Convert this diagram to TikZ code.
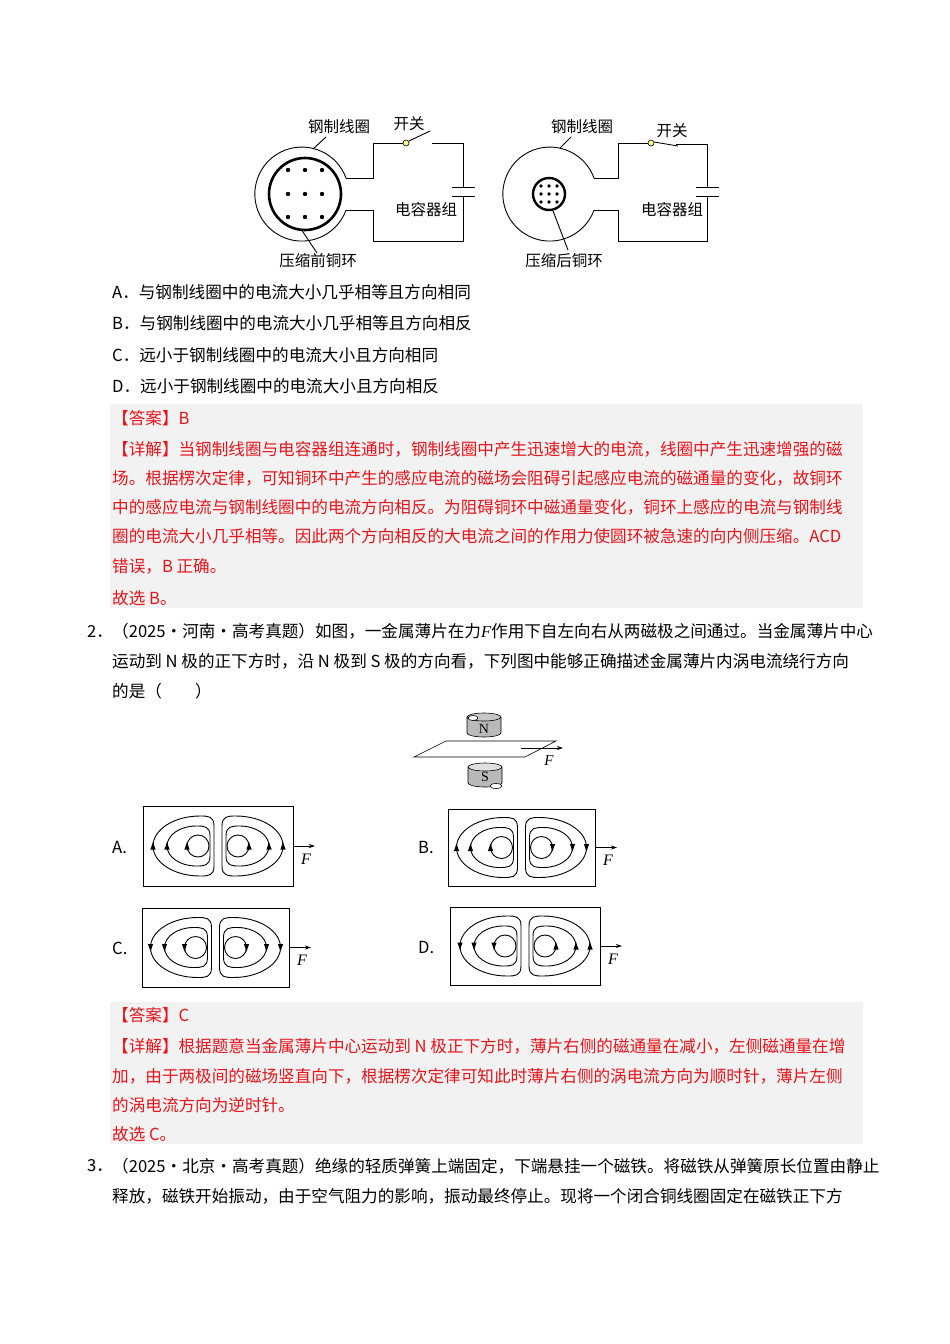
\documentclass[tikz,border=0pt]{standalone}
\usepackage{fontspec}
\setmainfont{Noto Sans CJK SC}
\newfontfamily\serifit{Liberation Serif}
\usetikzlibrary{arrows.meta}
\definecolor{ans}{HTML}{E8141B}
\definecolor{boxbg}{HTML}{F2F2F2}
\tikzset{
 txt/.style={anchor=west,inner sep=0pt,font=\fontsize{16.6}{18}\selectfont},
 red/.style={txt,text=ans},
 lbl/.style={inner sep=0pt,font=\fontsize{15.5}{18}\selectfont},
 wire/.style={line width=0.9pt},
 eddy/.style={line width=0.9pt},
 farrow/.style={line width=0.8pt,-{Stealth[length=6pt,width=4pt]}}
}
\newcommand{\amark}[3]{\fill (#1-2.6,#2+#3*3.5) -- (#1+2.6,#2+#3*3.5) -- (#1,#2-#3*4) -- cycle;}
\newcommand{\loopL}[3]{%
 \draw (#1,-#3+10) .. controls (#1,-#3) and (#1-6,-#3) .. (#1-14,-#3)
  .. controls ({#2+0.45*(#1-14-#2)},-#3) and (#2,-0.55*#3) .. (#2,0)
  .. controls (#2,0.55*#3) and ({#2+0.45*(#1-14-#2)},#3) .. (#1-14,#3)
  .. controls (#1-6,#3) and (#1,#3) .. (#1,#3-10) -- cycle;}
\newcommand{\loopR}[3]{%
 \draw (#1,-#3+10) .. controls (#1,-#3) and (#1+6,-#3) .. (#1+14,-#3)
  .. controls ({#2-0.45*(#2-#1-14)},-#3) and (#2,-0.55*#3) .. (#2,0)
  .. controls (#2,0.55*#3) and ({#2-0.45*(#2-#1-14)},#3) .. (#1+14,#3)
  .. controls (#1+6,#3) and (#1,#3) .. (#1,#3-10) -- cycle;}
\newcommand{\eddypat}[7]{%
 \draw[line width=0.8pt] (#1,#2) rectangle ++(#3,#4);
 \coordinate (#7r) at (#1+#3,#2+#4/2);
 \begin{scope}[shift={(#1+#3/2,#2+#4/2)},eddy]
  \loopL{-4}{-65}{30}
  \loopL{-8}{-51}{20}
  \draw (-20,0) circle[radius=11];
  \loopR{4}{65}{30}
  \loopR{8}{51}{20}
  \draw (20,0) circle[radius=11];
  \amark{-65}{0}{#5}\amark{-51}{0}{#5}\amark{-31}{0}{#5}
  \amark{65}{0}{#6}\amark{51}{0}{#6}\amark{31}{0}{#6}
 \end{scope}
 \coordinate (#7f) at (#1+#3+22,#2+#4/2);
 \draw[farrow] (#7r) -- (#7f);
 \node[inner sep=0pt,font=\serifit\itshape\fontsize{16}{18}\selectfont] at (#1+#3+13,#2+#4/2+13) {F};
}
\begin{document}
\begin{tikzpicture}[x=1pt,y=-1pt]
\useasboundingbox[fill=white] (0,0) rectangle (950,1344);
\begin{scope}[wire]
 \draw (346,178) arc[start angle=-20,end angle=-340,radius=47];
 \draw[line width=2.6pt] (305,194) circle[radius=36];
 \foreach \x in {288,305,322} \foreach \y in {170,194,217} \fill (\x,\y) circle[radius=2.2];
 \draw (346,178) -- (373,178) -- (373,143) -- (403,143);
 \draw (346,210) -- (373,210) -- (373,241) -- (463,241) -- (463,196);
 \draw (432,143) -- (463,143) -- (463,187);
 \draw (452,187) -- (475,187); \draw (452,196) -- (475,196);
 \draw (409,141) -- (430,131);
 \node[circle,draw,fill=yellow!40,inner sep=0pt,minimum size=6pt,line width=0.6pt] (sw1) at (406,143) {};
 \draw (326,137) -- (313,149);
 \draw (317,253) -- (301,229);
\end{scope}
\node[lbl] (l1) at (339,127) {钢制线圈};
\node[lbl] (l2) at (409,124) {开关};
\node[lbl] (l3) at (426,210) {电容器组};
\node[lbl] (l4) at (318,261) {压缩前铜环};
\begin{scope}[wire]
 \draw (594,178) arc[start angle=-20,end angle=-340,radius=47];
 \draw[line width=2.4pt] (549,194) circle[radius=16];
 \foreach \x in {541,549,557} \foreach \y in {186,194,202} \fill (\x,\y) circle[radius=1.8];
 \draw (594,178) -- (618,178) -- (618,143) -- (648,143);
 \draw (594,210) -- (618,210) -- (618,241) -- (707,241) -- (707,196);
 \draw (676,144) -- (707,144) -- (707,187);
 \draw (696,187) -- (719,187); \draw (696,196) -- (719,196);
 \draw (654,142) -- (678,146);
 \node[circle,draw,fill=yellow!40,inner sep=0pt,minimum size=6pt,line width=0.6pt] (sw2) at (651,143) {};
 \draw (571,137) -- (560,148);
 \draw (568,250) -- (553,211);
\end{scope}
\node[lbl] (r1) at (582,127) {钢制线圈};
\node[lbl] (r2) at (672,131) {开关};
\node[lbl] (r3) at (672,210) {电容器组};
\node[lbl] (r4) at (564,261) {压缩后铜环};
\node[txt] (oA) at (112,292) {A．与钢制线圈中的电流大小几乎相等且方向相同};
\node[txt] (oB) at (112,323) {B．与钢制线圈中的电流大小几乎相等且方向相反};
\node[txt] (oC) at (112,355) {C．远小于钢制线圈中的电流大小且方向相同};
\node[txt] (oD) at (112,386) {D．远小于钢制线圈中的电流大小且方向相反};
\fill[boxbg] (110,404) rectangle (863,608);
\node[red] at (112,418) {【答案】B};
\node[red] at (112,449) {【详解】当钢制线圈与电容器组连通时，钢制线圈中产生迅速增大的电流，线圈中产生迅速增强的磁};
\node[red] at (112,478) {场。根据楞次定律，可知铜环中产生的感应电流的磁场会阻碍引起感应电流的磁通量的变化，故铜环};
\node[red] at (112,507) {中的感应电流与钢制线圈中的电流方向相反。为阻碍铜环中磁通量变化，铜环上感应的电流与钢制线};
\node[red] at (112,536) {圈的电流大小几乎相等。因此两个方向相反的大电流之间的作用力使圆环被急速的向内侧压缩。ACD};
\node[red] at (112,566) {错误，B 正确。};
\node[red] at (112,598) {故选 B。};
\node[txt] at (87,631) {2．};
\node[txt] at (112,631) {（2025·河南·高考真题）如图，一金属薄片在力{\serifit\itshape F}作用下自左向右从两磁极之间通过。当金属薄片中心};
\node[txt] at (112,661) {运动到 N 极的正下方时，沿 N 极到 S 极的方向看，下列图中能够正确描述金属薄片内涡电流绕行方向};
\node[txt] at (112,691) {的是（　　）};
\begin{scope}[line width=0.6pt]
 \draw[fill=gray!55] (467,717) -- (467,733) arc[start angle=180,end angle=0,x radius=17,y radius=4] -- (501,717);
 \draw[fill=gray!45] (484,717) ellipse[x radius=17,y radius=4];
 \draw[fill=white] (473,718) ellipse[x radius=5,y radius=2.5];
 \node[inner sep=0pt,font=\serifit\fontsize{14}{16}\selectfont] (N) at (484,729) {N};
 \draw[fill=white] (414,757) -- (446,741) -- (556,741) -- (525,757) -- cycle;
 \coordinate (ps) at (521,748);
 \coordinate (pe) at (563,748);
 \draw[farrow] (ps) -- (pe);
 \node[inner sep=0pt,font=\serifit\itshape\fontsize{15}{18}\selectfont] at (549,761) {F};
 \draw[fill=gray!55] (468,767) -- (468,783) arc[start angle=180,end angle=0,x radius=17,y radius=4] -- (502,767);
 \draw[fill=gray!25] (485,767) ellipse[x radius=17,y radius=4];
 \draw[fill=white] (496,786) ellipse[x radius=6,y radius=2.5];
 \node[inner sep=0pt,font=\serifit\fontsize{14}{16}\selectfont] (S) at (485,777) {S};
\end{scope}
\node[txt] at (112,848) {A.};
\eddypat{143}{806}{150}{80}{1}{1}{ea}
\node[txt] at (418,848) {B.};
\eddypat{448}{809}{147}{77}{1}{-1}{eb}
\node[txt] at (112,948) {C.};
\eddypat{142}{908}{147}{79}{-1}{-1}{ec}
\node[txt] at (418,948) {D.};
\eddypat{450}{907}{150}{78}{-1}{1}{ed}
\fill[boxbg] (110,1002) rectangle (863,1144);
\node[red] at (112,1015) {【答案】C};
\node[red] at (112,1046) {【详解】根据题意当金属薄片中心运动到 N 极正下方时，薄片右侧的磁通量在减小，左侧磁通量在增};
\node[red] at (112,1076) {加，由于两极间的磁场竖直向下，根据楞次定律可知此时薄片右侧的涡电流方向为顺时针，薄片左侧};
\node[red] at (112,1105) {的涡电流方向为逆时针。};
\node[red] at (112,1134) {故选 C。};
\node[txt] at (87,1166) {3．};
\node[txt] at (112,1166) {（2025·北京·高考真题）绝缘的轻质弹簧上端固定，下端悬挂一个磁铁。将磁铁从弹簧原长位置由静止};
\node[txt] at (112,1196) {释放，磁铁开始振动，由于空气阻力的影响，振动最终停止。现将一个闭合铜线圈固定在磁铁正下方};
\end{tikzpicture}
\end{document}
